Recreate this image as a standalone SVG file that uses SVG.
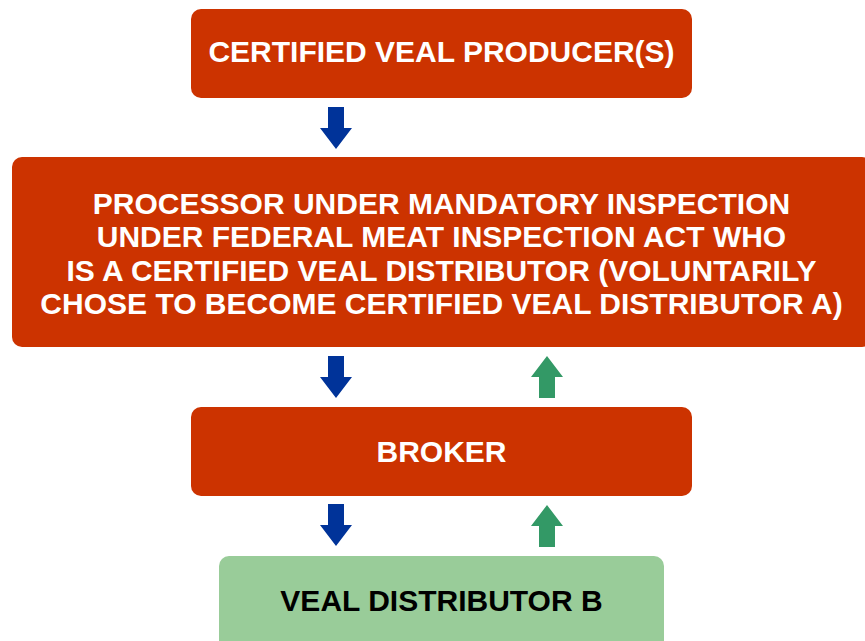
<svg xmlns="http://www.w3.org/2000/svg" width="865" height="641" viewBox="0 0 865 641">
<style>
.red{fill:#CC3300}
.grn{fill:#99CC99}
.t{font-family:"Liberation Sans",Arial,sans-serif;font-weight:bold;font-size:30px;text-anchor:middle}
.w{fill:#FFFFFF}
.k{fill:#000000}
.down{fill:#003399}
.up{fill:#339966}
</style>
<defs>
<path id="dn" d="M-8,0 H8 V21 H16 L0,42 L-16,21 H-8 Z"/>
<path id="upa" d="M0,0 L16,21 H8 V42 H-8 V21 H-16 Z"/>
</defs>
<rect width="865" height="641" fill="#FFFFFF"/>
<g id="producer">
<rect class="red" x="191" y="9" width="501" height="89" rx="10"/>
<text class="t w" x="441.5" y="62">CERTIFIED VEAL PRODUCER(S)</text>
</g>
<g id="processor">
<rect class="red" x="12" y="157" width="860" height="190" rx="10"/>
<text class="t w" x="441.5" y="213.5">PROCESSOR UNDER MANDATORY INSPECTION</text>
<text class="t w" x="441.5" y="247">UNDER FEDERAL MEAT INSPECTION ACT WHO</text>
<text class="t w" x="441.5" y="280.5">IS A CERTIFIED VEAL DISTRIBUTOR (VOLUNTARILY</text>
<text class="t w" x="441.5" y="314">CHOSE TO BECOME CERTIFIED VEAL DISTRIBUTOR A)</text>
</g>
<g id="broker">
<rect class="red" x="191" y="407" width="501" height="89" rx="10"/>
<text class="t w" x="441.5" y="462">BROKER</text>
</g>
<g id="distributorB">
<rect class="grn" x="219" y="556" width="445" height="100" rx="10"/>
<text class="t k" x="441.5" y="611">VEAL DISTRIBUTOR B</text>
</g>
<g id="connectors">
<use href="#dn" class="down" x="336" y="107"/>
<use href="#dn" class="down" x="336" y="356"/>
<use href="#upa" class="up" x="547" y="356"/>
<use href="#dn" class="down" x="336" y="504"/>
<use href="#upa" class="up" x="547" y="505"/>
</g>
</svg>
